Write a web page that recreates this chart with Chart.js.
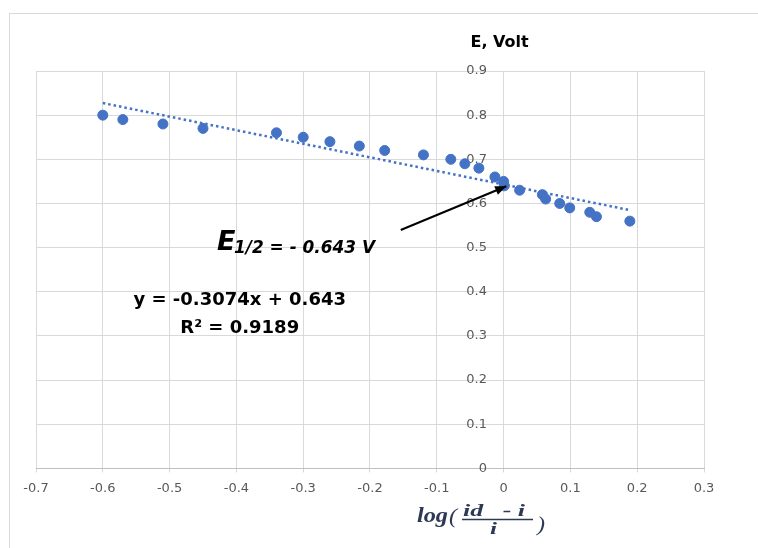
<!DOCTYPE html>
<html>
<head>
<meta charset="utf-8">
<script src="https://cdn.jsdelivr.net/npm/chart.js@4"></script>
<style>
  html, body { margin: 0; padding: 0; background: #fff; }
  #wrap { width: 758px; height: 548px; }
</style>
</head>
<body>
<div id="wrap"><canvas id="chart" width="758" height="548"></canvas></div>
<script>
// values
const logRatio = [-0.6, -0.57, -0.51, -0.45, -0.34, -0.3, -0.26, -0.216, -0.178, -0.12, -0.079, -0.058,
    -0.037, -0.013, 0, 0.001, 0.024, 0.058, 0.063, 0.084, 0.099, 0.129, 0.139, 0.189];
const eVolt = [0.80, 0.79, 0.78, 0.77, 0.76, 0.75, 0.74, 0.73, 0.72, 0.71, 0.70, 0.69,
    0.68, 0.66, 0.65, 0.64, 0.63, 0.62, 0.61, 0.60, 0.59, 0.58, 0.57, 0.56];

// linear trend as printed on the chart
const slope = -0.3074;
const intercept = 0.643;
const trendX = [-0.6, 0.19];

const xTicks = [-0.7, 0.3, 0.1];   // min, max, step
const yTicks = [0, 0.9, 0.1];

const blue = '#4472C4';
const tickColor = '#595959';
const gridColor = '#d9d9d9';
const navy = '#2d3855';

// E labels hang just left of x = 0 (the x=0 grid line acts as the axis line)
const yLabelsAt = -0.025;

const points = logRatio.map((x, i) => ({x: x, y: eVolt[i]}));
const trend = trendX.map(x => ({x: x, y: slope * x + intercept}));

const fmt = v => {
    const r = Number(v.toFixed(1));
    return r === 0 ? '0' : String(r);
};

// text squeezed/stretched to a given width
function fitText(c, txt, x, y, w) {
    const mw = c.measureText(txt).width;
    c.save();
    c.translate(x, y);
    c.scale(w / mw, 1);
    c.fillText(txt, 0, 0);
    c.restore();
}

const notes = {
    id: 'notes',
    beforeDraw(chart) {
        const c = chart.ctx;
        c.save();
        c.strokeStyle = gridColor;
        c.lineWidth = 1;
        c.strokeRect(9.5, 13.5, 900, 700);
        c.restore();
    },
    afterDraw(chart) {
        const c = chart.ctx;
        const xs = chart.scales.x, ys = chart.scales.y;
        const px = v => xs.getPixelForValue(v);
        const py = v => ys.getPixelForValue(v);
        c.save();

        // axis title for E
        c.fillStyle = '#000';
        c.font = 'bold 16px "DejaVu Sans"';
        c.textAlign = 'center';
        c.textBaseline = 'middle';
        c.fillText('E, Volt', px(0) - 4, 43);

        // arrow to E1/2
        const x1 = px(-0.154), y1 = py(0.54);
        const x2 = px(0.004), y2 = py(0.639);
        c.strokeStyle = '#000';
        c.fillStyle = '#000';
        c.lineWidth = 2;
        c.beginPath();
        c.moveTo(x1, y1);
        c.lineTo(x2, y2);
        c.stroke();
        const ang = Math.atan2(y2 - y1, x2 - x1);
        c.beginPath();
        c.moveTo(x2, y2);
        c.lineTo(x2 - 12 * Math.cos(ang - 0.4), y2 - 12 * Math.sin(ang - 0.4));
        c.lineTo(x2 - 12 * Math.cos(ang + 0.4), y2 - 12 * Math.sin(ang + 0.4));
        c.closePath();
        c.fill();

        // E1/2 label
        c.textAlign = 'left';
        c.textBaseline = 'alphabetic';
        c.font = 'bold oblique 27px "DejaVu Sans"';
        const ex = px(-0.429), ey = py(0.494);
        c.fillText('E', ex, ey);
        c.font = 'bold oblique 17px "DejaVu Sans"';
        fitText(c, '1/2 = - 0.643 V', ex + 17, ey + 3, 141);

        // trend equation
        c.textAlign = 'center';
        c.textBaseline = 'middle';
        c.font = 'bold 18px "DejaVu Sans"';
        c.fillText('y = -0.3074x + 0.643', px(-0.395), py(0.381));
        c.fillText('R\u00B2 = 0.9189', px(-0.395), py(0.317));

        // x axis title: log((id - i)/i)
        c.fillStyle = navy;
        c.strokeStyle = navy;
        c.textAlign = 'left';
        c.textBaseline = 'alphabetic';
        c.font = 'italic bold 20px "Liberation Serif"';
        fitText(c, 'log', 417, 522, 31);
        c.font = 'italic 20px "Liberation Serif"';
        fitText(c, '(', 449, 523, 8);
        c.font = 'italic bold 16px "Liberation Serif"';
        fitText(c, 'id   - i', 463, 516, 62);
        fitText(c, 'i', 490, 534, 7);
        c.font = 'italic 20px "Liberation Serif"';
        fitText(c, ')', 537, 531, 8);
        c.lineWidth = 1.3;
        c.beginPath();
        c.moveTo(462, 519.5);
        c.lineTo(533, 519.5);
        c.stroke();

        c.restore();
    }
};

new Chart(document.getElementById('chart'), {
    type: 'scatter',
    data: {
        datasets: [{
            data: points,
            backgroundColor: blue,
            borderColor: blue,
            pointRadius: 5,
            pointHoverRadius: 5,
            order: 1
        }, {
            type: 'line',
            data: trend,
            borderColor: blue,
            borderWidth: 2.5,
            borderDash: [2.5, 3],
            pointRadius: 0,
            fill: false,
            order: 2
        }]
    },
    options: {
        responsive: false,
        animation: false,
        events: [],
        layout: { padding: { left: 36, top: 71, right: 54, bottom: 44 } },
        plugins: {
            legend: { display: false },
            tooltip: { enabled: false }
        },
        scales: {
            x: {
                type: 'linear',
                min: xTicks[0],
                max: xTicks[1],
                grid: { color: gridColor, tickLength: 4, tickColor: gridColor },
                border: { color: '#bfbfbf' },
                ticks: {
                    stepSize: xTicks[2],
                    color: tickColor,
                    font: { family: 'DejaVu Sans', size: 13 },
                    padding: 8,
                    callback: v => fmt(v)
                }
            },
            y: {
                type: 'linear',
                position: { x: yLabelsAt },
                min: yTicks[0],
                max: yTicks[1],
                grid: { color: gridColor, drawTicks: false },
                border: { display: false },
                ticks: {
                    stepSize: yTicks[2],
                    color: tickColor,
                    font: { family: 'DejaVu Sans', size: 13 },
                    callback: v => fmt(v)
                }
            }
        }
    },
    plugins: [notes]
});
</script>
</body>
</html>
